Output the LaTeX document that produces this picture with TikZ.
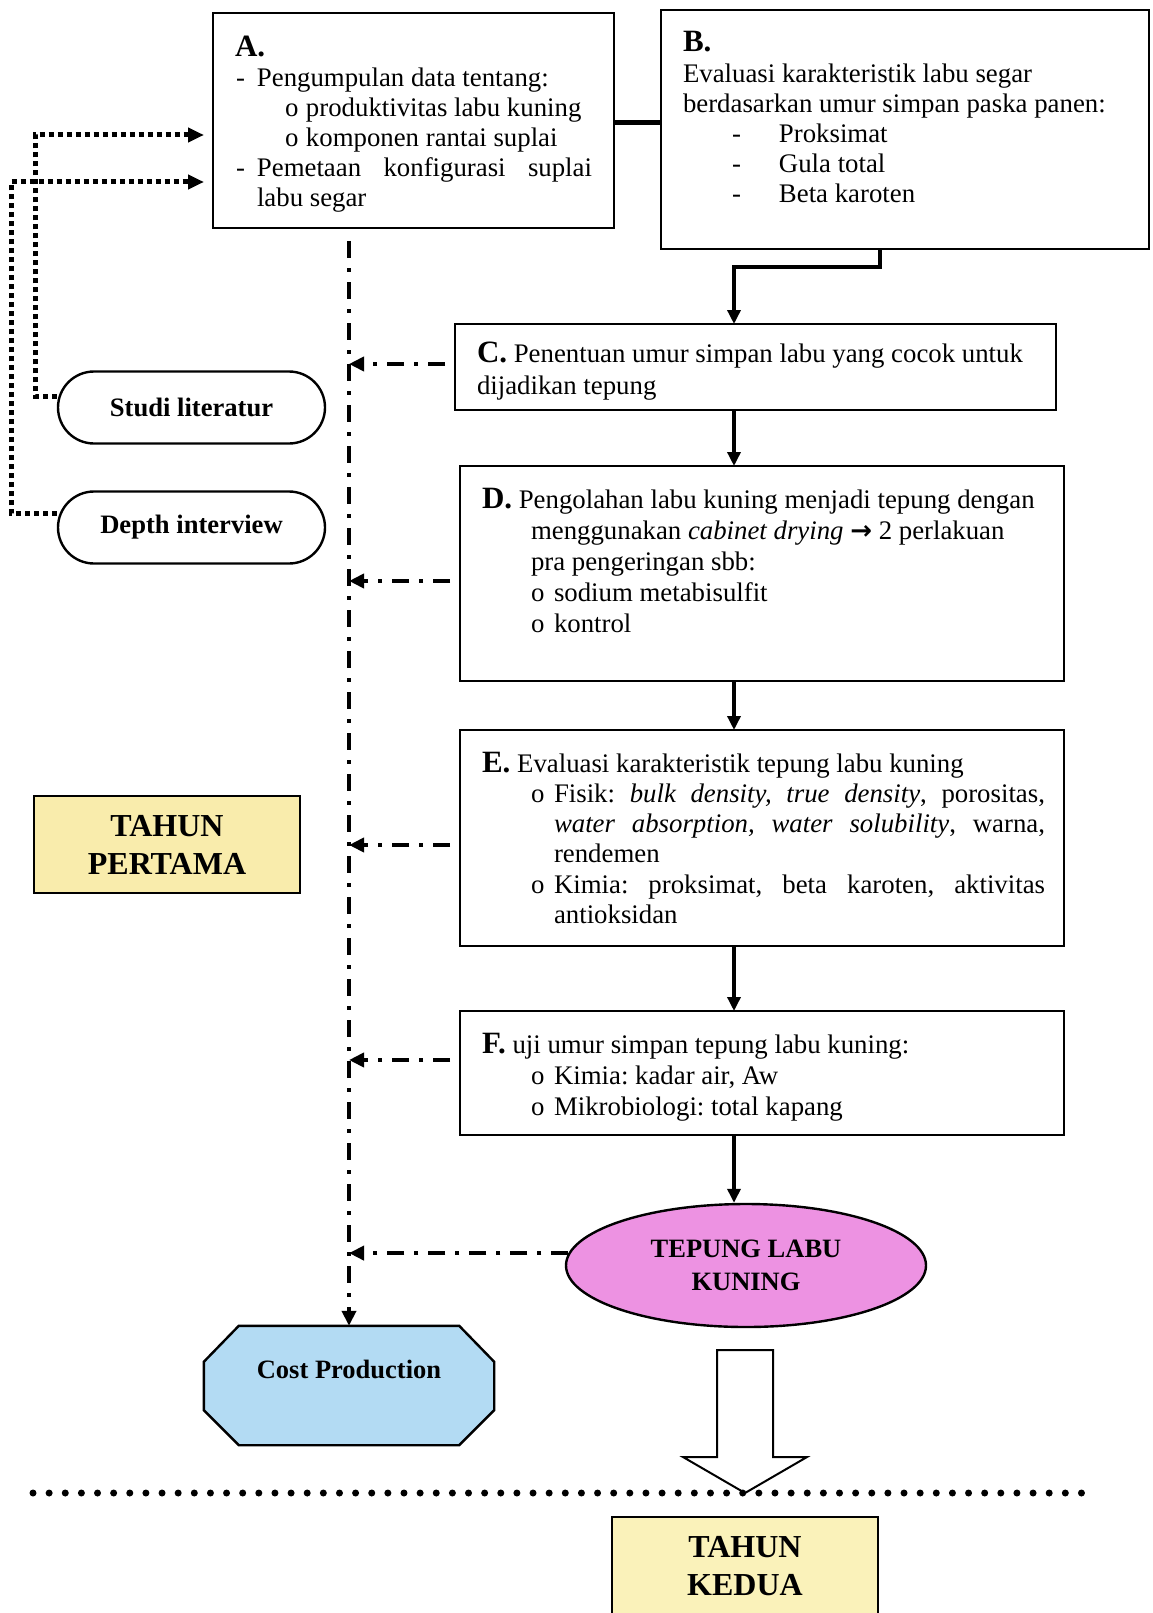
\documentclass[tikz,border=0pt]{standalone}
\usepackage{fontspec}
\setmainfont{Liberation Serif}
\newfontfamily\dejavu{DejaVu Sans}
\usetikzlibrary{arrows.meta,shapes.geometric,calc}
\definecolor{yelA}{RGB}{249,236,172}
\definecolor{yelB}{RGB}{250,242,186}
\definecolor{pinkf}{RGB}{237,146,226}
\definecolor{bluef}{RGB}{179,219,243}
\newcommand\bodyf[1]{\fontsize{26.8}{#1}\selectfont\frenchspacing\lineskiplimit=-100pt\lineskip=0pt\relax}
\newcommand\hdr[1]{{\fontsize{31}{31}\selectfont\bfseries #1}}
\newcommand\bul{\makebox[23pt][l]{o}}
\begin{document}
\begin{tikzpicture}[x=1pt,y=-1pt,
  box/.style={draw, line width=2.4pt, rectangle, inner sep=0pt, outer sep=0pt, anchor=north west},
  txt/.style={anchor=base west, inner sep=0pt, outer sep=0pt},
  arr/.style={line width=3.4pt, -{Triangle[length=14pt,width=13pt]}},
  dd/.style={line width=4pt, dash pattern=on 17pt off 10pt on 4pt off 10pt, -{Triangle[length=15pt,width=14pt]}},
  sq/.style={line width=5pt, dash pattern=on 5pt off 4pt, -{Triangle[length=16pt,width=14pt]}},
  pill/.style={draw, line width=2.4pt, rectangle, rounded corners=36pt, minimum width=267pt, minimum height=72pt, inner sep=0pt, font=\fontsize{26.6}{30}\selectfont\bfseries},
  yb/.style={draw, line width=2.4pt, rectangle, inner sep=0pt, align=center, font=\fontsize{32}{38}\selectfont\bfseries},
]
\useasboundingbox (0,0) rectangle (1152,1613);

% main boxes
\node[box, minimum width=401pt, minimum height=215pt] (A) at (213,13) {};
\node[box, minimum width=488pt, minimum height=239pt] (B) at (661,10) {};
\node[box, minimum width=601pt, minimum height=86pt] (C) at (455,324) {};
\node[box, minimum width=604pt, minimum height=215pt] (D) at (460,466) {};
\node[box, minimum width=604pt, minimum height=216pt] (E) at (460,730) {};
\node[box, minimum width=604pt, minimum height=124pt] (F) at (460,1011) {};

% box texts
\node[txt] (At) at (235,57) {\parbox[t]{700pt}{\bodyf{30}%
{\hdr{A.}}\\
\hspace*{1pt}\makebox[21pt][l]{-}Pengumpulan data tentang:\\
\hspace*{50pt}\makebox[21pt][l]{o}produktivitas labu kuning\\
\hspace*{50pt}\makebox[21pt][l]{o}komponen rantai suplai\\
\hspace*{1pt}\makebox[21pt][l]{-}\makebox[335pt][s]{Pemetaan konfigurasi suplai}\\
\hspace*{22pt}labu segar}};

\node[txt] (Bt) at (683,52) {\parbox[t]{700pt}{\bodyf{30.2}%
{\hdr{B.}}\\
Evaluasi karakteristik labu segar\\
berdasarkan umur simpan paska panen:\\
\hspace*{49pt}\makebox[47pt][l]{-}Proksimat\\
\hspace*{49pt}\makebox[47pt][l]{-}Gula total\\
\hspace*{49pt}\makebox[47pt][l]{-}Beta karoten}};

\node[txt] (Ct) at (477,362) {\parbox[t]{700pt}{\bodyf{32}%
{\hdr{C.}} Penentuan umur simpan labu yang cocok untuk\\
dijadikan tepung}};

\node[txt] (Dt) at (482,508) {\parbox[t]{700pt}{\bodyf{31}%
{\hdr{D.}} Pengolahan labu kuning menjadi tepung dengan\\
\hspace*{49pt}menggunakan \textit{cabinet drying} {\dejavu\fontsize{26}{30}\selectfont\bfseries →} 2 perlakuan\\
\hspace*{49pt}pra pengeringan sbb:\\
\hspace*{49pt}\bul sodium metabisulfit\\
\hspace*{49pt}\bul kontrol}};

\node[txt] (Et) at (482,772) {\parbox[t]{700pt}{\bodyf{30.3}%
{\hdr{E.}} Evaluasi karakteristik tepung labu kuning\\
\hspace*{49pt}\bul\makebox[491pt][s]{Fisik: \textit{bulk density, true density}, porositas,}\\
\hspace*{72pt}\makebox[491pt][s]{\textit{water absorption, water solubility}, warna,}\\
\hspace*{72pt}rendemen\\
\hspace*{49pt}\bul\makebox[491pt][s]{Kimia: proksimat, beta karoten, aktivitas}\\
\hspace*{72pt}antioksidan}};

\node[txt] (Ft) at (482,1053) {\parbox[t]{700pt}{\bodyf{31}%
{\hdr{F.}} uji umur simpan tepung labu kuning:\\
\hspace*{49pt}\bul Kimia: kadar air, Aw\\
\hspace*{49pt}\bul Mikrobiologi: total kapang}};

% pills
\node[pill] (sl) at (191.5,407.5) {Studi literatur};
\node[pill] (di) at (191.5,527.5) {Depth interview};

% year boxes
\node[yb, fill=yelA, minimum width=266pt, minimum height=97pt] (t1) at (167,844.5) {TAHUN\\PERTAMA};
\node[yb, fill=yelB, minimum width=266pt, minimum height=99pt] (t2) at (745,1566.5) {TAHUN\\KEDUA};

% ellipse
\node[draw, ellipse, fill=pinkf, line width=2.4pt, minimum width=360pt, minimum height=123pt, inner sep=0pt, align=center, font=\fontsize{26.5}{33}\selectfont\bfseries] (ell) at (746,1265.5) {TEPUNG LABU\\KUNING};

% octagon (cost production)
\node[inner sep=0pt, minimum width=290pt, minimum height=119pt] (cp) at (349,1385.5) {};
\draw[fill=bluef, line width=2.4pt] ($(cp.north west)+(35,0)$) -- ($(cp.north east)+(-35,0)$) -- ($(cp.north east)+(0,36)$) -- ($(cp.south east)+(0,-35)$) -- ($(cp.south east)+(-35,0)$) -- ($(cp.south west)+(35,0)$) -- ($(cp.south west)+(0,-35)$) -- ($(cp.north west)+(0,36)$) -- cycle;
\node[anchor=base, inner sep=0pt, font=\fontsize{26.5}{30}\selectfont\bfseries] (cpt) at (349,1378) {Cost Production};

% solid connectors
\coordinate (mx) at (734,0);
\draw[line width=5pt] ([yshift=-2.5pt]A.east) -- ([yshift=-2.5pt]A.east -| B.west);
\draw[arr] ([xshift=-25pt]B.south) -- ++(0,18) -| (C.north -| mx);
\draw[arr] (C.south -| mx) -- (D.north -| mx);
\draw[arr] (D.south -| mx) -- (E.north -| mx);
\draw[arr] (E.south -| mx) -- (F.north -| mx);
\draw[arr] (F.south -| mx) -- (ell.north -| mx);

% dash-dot connectors
\coordinate (vtop) at (349,241);
\draw[dd] (vtop) -- (cp.north);
\draw[dd, shorten <=10pt] ([yshift=3pt]C.west) -- ([yshift=3pt]C.west -| vtop);
\draw[dd, shorten <=10pt] ([yshift=-7.5pt]D.west) -- ([yshift=-7.5pt]D.west -| vtop);
\draw[dd, shorten <=10pt] ([yshift=-7pt]E.west) -- ([yshift=-7pt]E.west -| vtop);
\draw[dd, shorten <=10pt] ([yshift=13pt]F.west) -- ([yshift=13pt]F.west -| vtop);
\draw[dd] (ell.176) -- (ell.176 -| vtop);

% square-dotted connectors
\coordinate (ix) at (35,135);
\coordinate (ox) at (11,182);
\draw[sq, shorten >=9pt] ([yshift=11pt]sl.west) -| (ix) -- (ix -| A.west);
\draw[sq, shorten >=9pt] ([yshift=14pt]di.west) -| (ox) -- (ox -| A.west);

% hollow arrow and year divider
\draw[line width=2pt, fill=white] (717,1350) -- (773,1350) -- (773,1457) -- (807,1457) -- (745,1493) -- (683,1457) -- (717,1457) -- cycle;
\coordinate (dl) at (33,1493);
\coordinate (dr) at (1083,1493);
\draw[line width=7pt, line cap=round, dash pattern=on 0pt off 16.13pt] (dl) -- (dr);
\end{tikzpicture}
\end{document}
